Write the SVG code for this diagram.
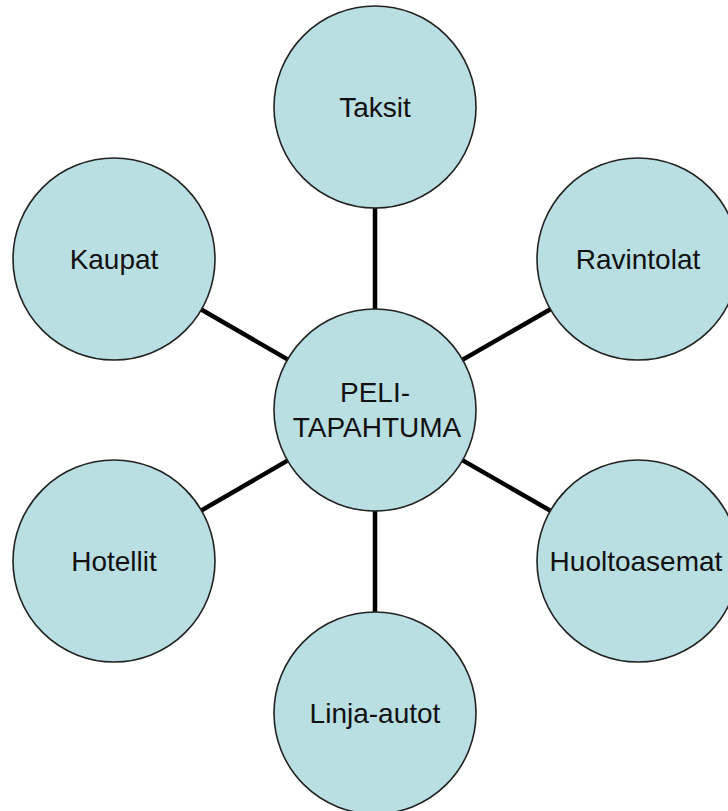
<svg xmlns="http://www.w3.org/2000/svg" width="728" height="811" viewBox="0 0 728 811">
<style>
.node circle{fill:#b9dfe3;stroke:#222;stroke-width:1.6}
.node text{font-family:"Liberation Sans",Arial,sans-serif;font-size:28px;fill:#111;text-anchor:middle}
.conn line{stroke:#000;stroke-width:4.5}
</style>
<rect width="728" height="811" fill="#fff"/>
<g id="connectors" class="conn">
<line x1="375" y1="410" x2="375" y2="107"/>
<line x1="375" y1="410" x2="638" y2="259"/>
<line x1="375" y1="410" x2="638" y2="561"/>
<line x1="375" y1="410" x2="375" y2="713"/>
<line x1="375" y1="410" x2="114" y2="561"/>
<line x1="375" y1="410" x2="114" y2="259"/>
</g>
<g id="taksit" class="node"><circle cx="375" cy="107" r="101"/><text x="375" y="117">Taksit</text></g>
<g id="ravintolat" class="node"><circle cx="638" cy="259" r="101"/><text x="638" y="269">Ravintolat</text></g>
<g id="huoltoasemat" class="node"><circle cx="638" cy="561" r="101"/><text x="636" y="571">Huoltoasemat</text></g>
<g id="linja-autot" class="node"><circle cx="375" cy="713" r="101"/><text x="375" y="723">Linja-autot</text></g>
<g id="hotellit" class="node"><circle cx="114" cy="561" r="101"/><text x="114" y="571">Hotellit</text></g>
<g id="kaupat" class="node"><circle cx="114" cy="259" r="101"/><text x="114" y="269">Kaupat</text></g>
<g id="peli-tapahtuma" class="node"><circle cx="375" cy="410" r="101"/><text x="375" y="402">PELI-</text><text x="377" y="437">TAPAHTUMA</text></g>
</svg>
